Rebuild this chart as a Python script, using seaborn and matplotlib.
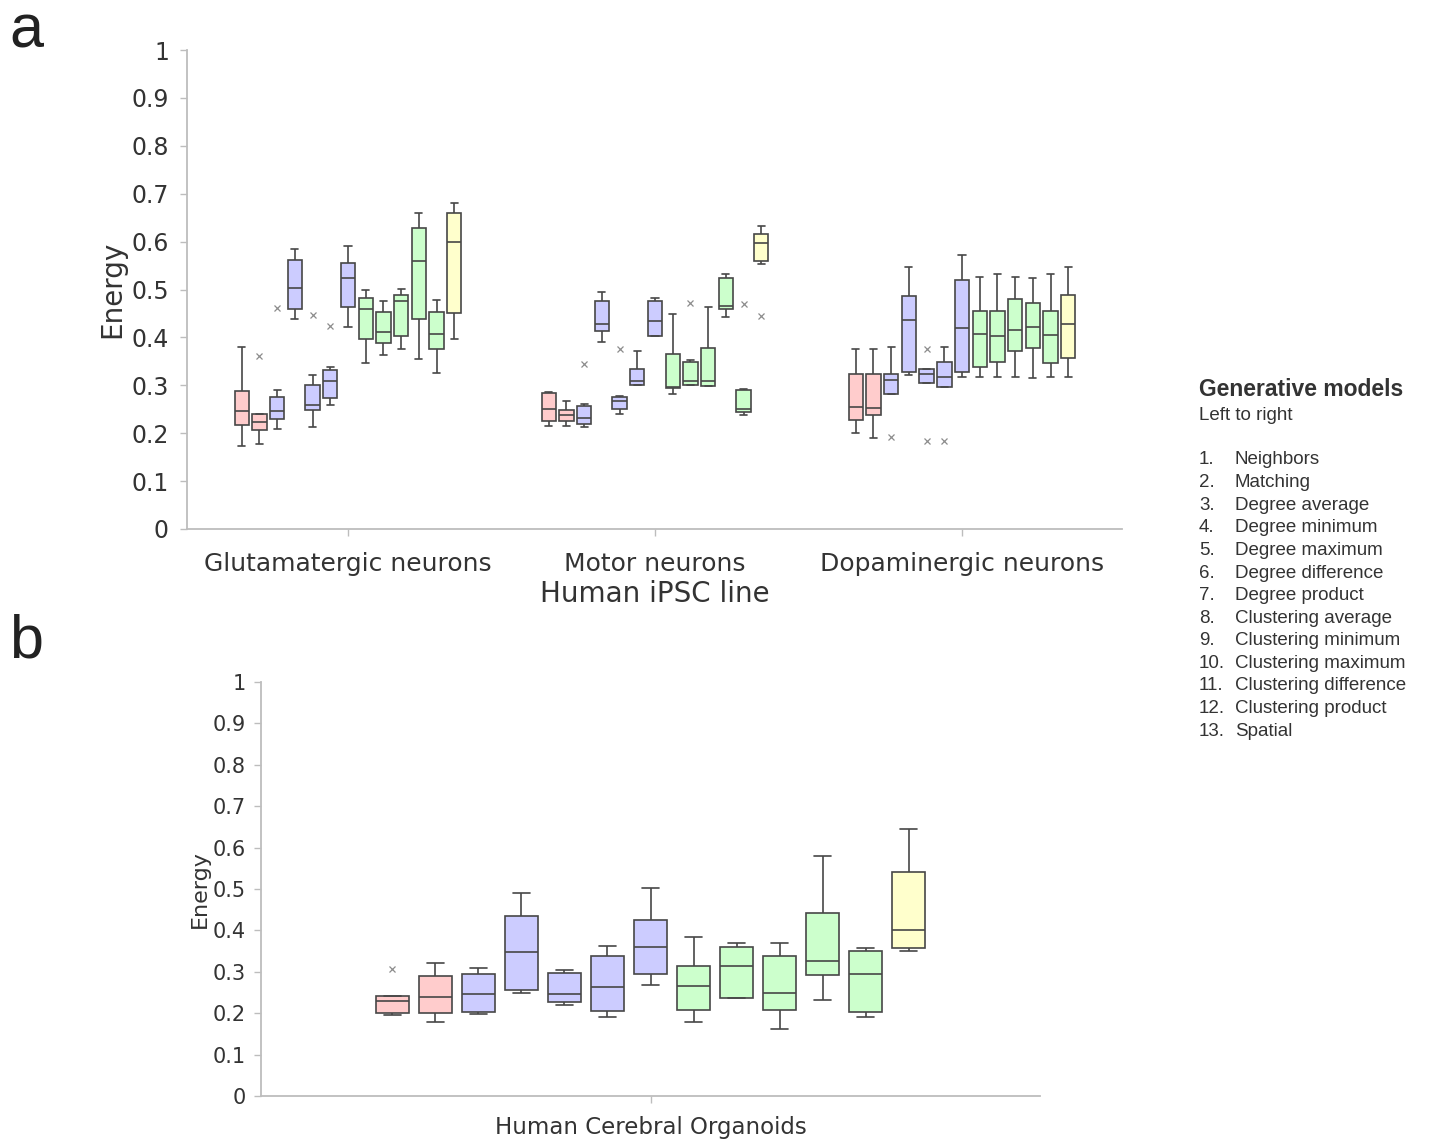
import numpy as np
import pandas as pd
import matplotlib
matplotlib.use("Agg")
import matplotlib.pyplot as plt
import seaborn as sns

# ---------------- data ----------------
models = ["Neighbors", "Matching", "Degree average", "Degree minimum", "Degree maximum",
          "Degree difference", "Degree product", "Clustering average", "Clustering minimum",
          "Clustering maximum", "Clustering difference", "Clustering product", "Spatial"]
model_colors = ["#FFCCCC"] * 2 + ["#CCCCFF"] * 5 + ["#CCFFCC"] * 5 + ["#FFFFCC"]

ipsc_lines = ["Glutamatergic neurons", "Motor neurons", "Dopaminergic neurons"]

# five-number summaries (lower whisker, Q1, median, Q3, upper whisker), per model
glut_lo  = [0.173, 0.177, 0.209, 0.438, 0.213, 0.259, 0.422, 0.346, 0.364, 0.376, 0.354, 0.325, 0.397]
glut_q1  = [0.218, 0.207, 0.230, 0.459, 0.249, 0.273, 0.463, 0.397, 0.388, 0.402, 0.438, 0.376, 0.450]
glut_med = [0.246, 0.223, 0.246, 0.504, 0.259, 0.308, 0.524, 0.459, 0.411, 0.475, 0.560, 0.407, 0.599]
glut_q3  = [0.288, 0.240, 0.276, 0.562, 0.301, 0.332, 0.556, 0.482, 0.452, 0.489, 0.629, 0.452, 0.659]
glut_hi  = [0.381, 0.241, 0.290, 0.585, 0.321, 0.339, 0.591, 0.500, 0.475, 0.502, 0.660, 0.478, 0.680]

motor_lo  = [0.216, 0.214, 0.213, 0.390, 0.241, 0.301, 0.403, 0.282, 0.301, 0.299, 0.442, 0.237, 0.553]
motor_q1  = [0.226, 0.225, 0.220, 0.413, 0.251, 0.301, 0.403, 0.294, 0.301, 0.299, 0.459, 0.244, 0.560]
motor_med = [0.251, 0.237, 0.231, 0.428, 0.268, 0.308, 0.434, 0.297, 0.308, 0.308, 0.466, 0.250, 0.598]
motor_q3  = [0.283, 0.248, 0.257, 0.477, 0.276, 0.335, 0.475, 0.365, 0.349, 0.377, 0.524, 0.290, 0.616]
motor_hi  = [0.285, 0.267, 0.262, 0.495, 0.277, 0.371, 0.482, 0.448, 0.352, 0.463, 0.532, 0.292, 0.633]

dopa_lo  = [0.200, 0.191, 0.281, 0.322, 0.305, 0.297, 0.318, 0.318, 0.318, 0.318, 0.315, 0.318, 0.318]
dopa_q1  = [0.227, 0.238, 0.281, 0.328, 0.305, 0.297, 0.328, 0.338, 0.349, 0.371, 0.377, 0.346, 0.356]
dopa_med = [0.254, 0.252, 0.312, 0.436, 0.323, 0.317, 0.419, 0.408, 0.402, 0.416, 0.421, 0.406, 0.427]
dopa_q3  = [0.323, 0.323, 0.323, 0.486, 0.333, 0.348, 0.520, 0.455, 0.455, 0.480, 0.472, 0.456, 0.488]
dopa_hi  = [0.376, 0.376, 0.379, 0.548, 0.333, 0.381, 0.573, 0.526, 0.532, 0.526, 0.523, 0.533, 0.548]

org_label = "Human Cerebral Organoids"
org_lo  = [0.196, 0.178, 0.197, 0.250, 0.220, 0.191, 0.269, 0.178, 0.236, 0.161, 0.233, 0.190, 0.350]
org_q1  = [0.201, 0.200, 0.203, 0.256, 0.226, 0.205, 0.295, 0.207, 0.236, 0.207, 0.292, 0.204, 0.357]
org_med = [0.229, 0.239, 0.246, 0.349, 0.246, 0.263, 0.360, 0.266, 0.314, 0.250, 0.327, 0.295, 0.402]
org_q3  = [0.242, 0.289, 0.294, 0.434, 0.297, 0.337, 0.425, 0.314, 0.359, 0.337, 0.441, 0.350, 0.541]
org_hi  = [0.242, 0.322, 0.310, 0.490, 0.304, 0.362, 0.502, 0.383, 0.369, 0.369, 0.580, 0.358, 0.646]

# outliers: (group, model number 1..13, value)
ipsc_outliers = [
    ("Glutamatergic neurons", 2, 0.362), ("Glutamatergic neurons", 3, 0.461),
    ("Glutamatergic neurons", 5, 0.446), ("Glutamatergic neurons", 6, 0.424),
    ("Motor neurons", 3, 0.345), ("Motor neurons", 5, 0.376), ("Motor neurons", 9, 0.472),
    ("Motor neurons", 12, 0.470), ("Motor neurons", 13, 0.445),
    ("Dopaminergic neurons", 3, 0.193), ("Dopaminergic neurons", 5, 0.376),
    ("Dopaminergic neurons", 5, 0.184), ("Dopaminergic neurons", 6, 0.184),
]
org_outliers = [(org_label, 1, 0.306)]

y_ticks = [0, 0.1, 0.2, 0.3, 0.4, 0.5, 0.6, 0.7, 0.8, 0.9, 1]
y_tick_labels = ["0", "0.1", "0.2", "0.3", "0.4", "0.5", "0.6", "0.7", "0.8", "0.9", "1"]


def long_frame(group, lo, q1, med, q3, hi):
    rows = []
    for m, a, b, c, d, e in zip(models, lo, q1, med, q3, hi):
        for v in (a, b, c, d, e):
            rows.append({"group": group, "model": m, "energy": v})
    return rows


ipsc_df = pd.DataFrame(
    long_frame(ipsc_lines[0], glut_lo, glut_q1, glut_med, glut_q3, glut_hi)
    + long_frame(ipsc_lines[1], motor_lo, motor_q1, motor_med, motor_q3, motor_hi)
    + long_frame(ipsc_lines[2], dopa_lo, dopa_q1, dopa_med, dopa_q3, dopa_hi))
org_df = pd.DataFrame(long_frame(org_label, org_lo, org_q1, org_med, org_q3, org_hi))


def outlier_frames(outs):
    # split so that several outliers of the same box are drawn separately
    seen = {}
    layers = []
    for g, m, v in outs:
        k = seen.get((g, m), 0)
        seen[(g, m)] = k + 1
        while len(layers) <= k:
            layers.append([])
        layers[k].append({"group": g, "model": models[m - 1], "energy": v})
    return [pd.DataFrame(l) for l in layers]


# ---------------- style ----------------
sns.set_theme(style="white")
plt.rcParams["font.family"] = ["DejaVu Sans"]
spine_col = "#BDBDBD"
text_col = "#333333"
line_col = "#474747"

fig = plt.figure(figsize=(14.31, 11.40), dpi=100)
W, H = 1431, 1140
ax_a = fig.add_axes([187 / W, 1 - 529 / H, (1122 - 187) / W, (529 - 50) / H])
ax_b = fig.add_axes([261 / W, 1 - 1096 / H, (1040 - 261) / W, (1096 - 682) / H])

palette = dict(zip(models, model_colors))
gray_pal = {m: "#8C8C8C" for m in models}


def draw(ax, df, outs, order, width, gap):
    sns.boxplot(data=df, x="group", y="energy", hue="model", order=order, hue_order=models,
                palette=palette, width=width, gap=gap, whis=(0, 100), saturation=1,
                linecolor=line_col, linewidth=1.2, fliersize=0, legend=False, ax=ax)
    for odf in outlier_frames(outs):
        sns.pointplot(data=odf, x="group", y="energy", hue="model", order=order,
                      hue_order=models, palette=gray_pal, dodge=width * 12 / 13,
                      markers="x", linestyle="none", errorbar=None, markersize=4,
                      markeredgewidth=0.9, legend=False, ax=ax)


draw(ax_a, ipsc_df, ipsc_outliers, ipsc_lines, 0.75, 0.19)
draw(ax_b, org_df, org_outliers, [org_label], 0.7176, 0.23)

for ax in (ax_a, ax_b):
    ax.set_ylim(0, 1)
    ax.set_yticks(y_ticks)
    ax.set_yticklabels(y_tick_labels)
    for s in ("top", "right"):
        ax.spines[s].set_visible(False)
    for s in ("left", "bottom"):
        ax.spines[s].set_color(spine_col)
        ax.spines[s].set_linewidth(1.3)
    ax.tick_params(axis="both", which="major", direction="out", length=5, width=1,
                   color=spine_col, labelcolor=text_col, left=True, bottom=True)
    ax.set_facecolor("white")

ax_a.set_xlim(-0.5244, 2.521)
ax_a.tick_params(axis="y", labelsize=17, pad=8)
ax_a.tick_params(axis="x", labelsize=18, pad=11.5)
ax_a.set_ylabel("Energy", fontsize=20, color=text_col, labelpad=4)
ax_a.set_xlabel("Human iPSC line", fontsize=20, color=text_col, labelpad=3)

ax_b.set_xlim(-0.5, 0.5)
ax_b.set_xticks([0])
ax_b.set_xticklabels([""])
ax_b.tick_params(axis="y", labelsize=15, pad=6)
ax_b.set_ylabel("Energy", fontsize=16, color=text_col, labelpad=2)
ax_b.set_xlabel(org_label, fontsize=16.5, color=text_col, labelpad=6)

# panel letters
fig.text(9 / W, 1 - 47 / H, "a", fontsize=44, family=["Liberation Sans"], color="#222222",
         va="baseline", ha="left")
fig.text(9 / W, 1 - 658 / H, "b", fontsize=44, family=["Liberation Sans"], color="#222222",
         va="baseline", ha="left")

# legend text block
fig.text(1199 / W, 1 - 390 / H, "Generative models", fontsize=16.5, fontweight="bold",
         family=["Liberation Sans"], color="#333333", va="center", ha="left")
fig.text(1199 / W, 1 - 416 / H, "Left to right", fontsize=13.5,
         family=["Liberation Sans"], color="#333333", va="center", ha="left")
for i, m in enumerate(models):
    yy = 1 - (460 + i * 22.6) / H
    fig.text(1199 / W, yy, f"{i + 1}.", fontsize=13.5, family=["Liberation Sans"],
             color="#333333", va="center", ha="left")
    fig.text(1235 / W, yy, m, fontsize=13.5, family=["Liberation Sans"],
             color="#333333", va="center", ha="left")

fig.savefig("out.png", dpi=100, facecolor="white")
